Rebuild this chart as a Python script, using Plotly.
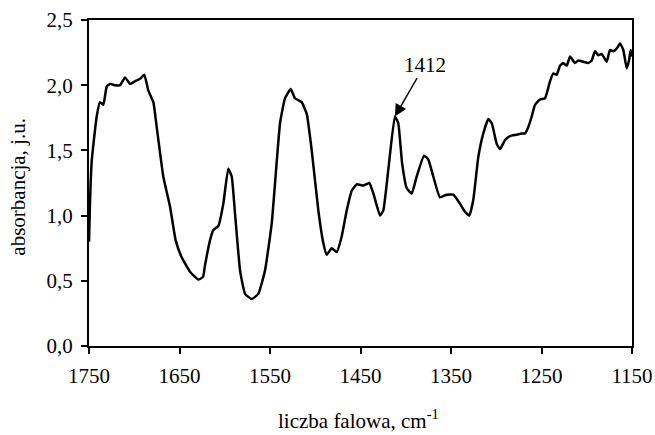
import plotly.graph_objects as go

# IR absorbance spectrum, wavenumber in cm^-1
wavenumber = [
    1750.0, 1748.9, 1747.0, 1741.5, 1737.8, 1734.2, 1730.4, 1726.8, 1721.3, 1715.7,
    1710.2, 1704.7, 1699.2, 1693.6, 1688.9, 1684.5, 1678.9, 1675.2, 1667.9, 1660.5,
    1654.2, 1647.6, 1638.4, 1629.2, 1624.0, 1621.8, 1616.3, 1612.6, 1607.1, 1601.6,
    1596.1, 1592.3, 1588.7, 1583.1, 1577.6, 1570.2, 1562.9, 1555.5, 1548.1, 1538.9,
    1533.4, 1527.1, 1522.4, 1515.0, 1509.4, 1503.9, 1496.6, 1491.1, 1487.3, 1481.8,
    1476.3, 1470.8, 1465.2, 1459.7, 1454.2, 1446.9, 1440.3, 1435.8, 1428.4, 1424.8,
    1419.3, 1412.0, 1408.3, 1404.0, 1398.9, 1393.4, 1387.9, 1379.8, 1375.1, 1369.6,
    1362.2, 1354.7, 1347.5, 1340.0, 1334.5, 1329.8, 1325.4, 1319.8, 1314.3, 1308.8,
    1305.0, 1299.5, 1295.8, 1290.3, 1284.8, 1277.4, 1271.9, 1268.2, 1264.6, 1260.8,
    1257.2, 1251.6, 1246.1, 1242.5, 1240.6, 1236.9, 1233.2, 1229.5, 1225.9, 1222.1,
    1218.5, 1213.0, 1209.3, 1203.8, 1198.3, 1194.5, 1190.9, 1187.3, 1183.5, 1178.0,
    1174.3, 1170.7, 1166.9, 1163.3, 1159.6, 1155.9, 1153.3, 1151.4, 1150.0,
]
absorbance = [
    0.80, 1.10, 1.42, 1.76, 1.87, 1.85, 1.99, 2.01, 2.00, 2.00,
    2.06, 2.01, 2.03, 2.05, 2.08, 1.96, 1.87, 1.68, 1.30, 1.07,
    0.81, 0.68, 0.57, 0.51, 0.53, 0.62, 0.81, 0.89, 0.92, 1.09,
    1.36, 1.30, 1.02, 0.58, 0.40, 0.36, 0.40, 0.58, 0.94, 1.71,
    1.90, 1.97, 1.90, 1.87, 1.78, 1.50, 1.04, 0.79, 0.70, 0.75,
    0.72, 0.84, 1.04, 1.19, 1.24, 1.23, 1.25, 1.17, 1.00, 1.04,
    1.35, 1.76, 1.71, 1.40, 1.21, 1.17, 1.30, 1.46, 1.43, 1.30,
    1.14, 1.16, 1.16, 1.09, 1.03, 1.00, 1.12, 1.45, 1.63, 1.74,
    1.71, 1.55, 1.51, 1.58, 1.61, 1.62, 1.63, 1.63, 1.68, 1.76,
    1.85, 1.89, 1.90, 1.98, 2.03, 2.09, 2.08, 2.15, 2.17, 2.15,
    2.22, 2.17, 2.19, 2.18, 2.17, 2.19, 2.26, 2.23, 2.24, 2.18,
    2.27, 2.26, 2.28, 2.32, 2.27, 2.13, 2.19, 2.27, 2.22,
]

x_ticks = [1750, 1650, 1550, 1450, 1350, 1250, 1150]
y_ticks = [0.0, 0.5, 1.0, 1.5, 2.0, 2.5]
y_tick_text = ["0,0", "0,5", "1,0", "1,5", "2,0", "2,5"]

x_title = "liczba falowa, cm<sup>-1</sup>"
y_title = "absorbancja, j.u."

peak_x = 1412
peak_y = 1.76
peak_label = "1412"

FONT = "Liberation Serif"
TEXT = dict(family=FONT, size=21, color="black")

fig = go.Figure()
fig.add_trace(go.Scatter(
    x=wavenumber, y=absorbance, mode="lines",
    line=dict(color="black", width=2.5, shape="spline", smoothing=0.4),
    showlegend=False, hoverinfo="skip",
))

# peak marker with arrow
fig.add_annotation(
    x=peak_x, y=peak_y, text=peak_label,
    showarrow=True, arrowhead=2, arrowsize=1.6, arrowwidth=1.5, arrowcolor="black",
    ax=30, ay=-52, font=TEXT,
)

# axis titles placed in paper coordinates so the plot area keeps fixed margins
fig.add_annotation(
    xref="paper", yref="paper", x=0.497, y=-0.225, text=x_title,
    showarrow=False, font=TEXT, xanchor="center", yanchor="middle",
)
fig.add_annotation(
    xref="paper", yref="paper", x=-0.13, y=0.49, text=y_title, textangle=-90,
    showarrow=False, font=TEXT, xanchor="center", yanchor="middle",
)

axis_common = dict(
    showline=True, linecolor="black", linewidth=2.2, mirror=True,
    ticks="outside", ticklen=6, tickwidth=2, tickcolor="black",
    showgrid=False, zeroline=False, ticklabelstandoff=4,
    tickfont=TEXT, automargin=False,
)

fig.update_xaxes(
    range=[1750, 1150], tickvals=x_ticks, ticktext=[str(v) for v in x_ticks],
    **axis_common,
)
fig.update_yaxes(
    range=[0, 2.5], tickvals=y_ticks, ticktext=y_tick_text,
    **axis_common,
)

fig.update_layout(
    width=655, height=435,
    margin=dict(l=89, r=23, t=20, b=89),
    plot_bgcolor="white", paper_bgcolor="white",
)

fig.write_html("out.html")
